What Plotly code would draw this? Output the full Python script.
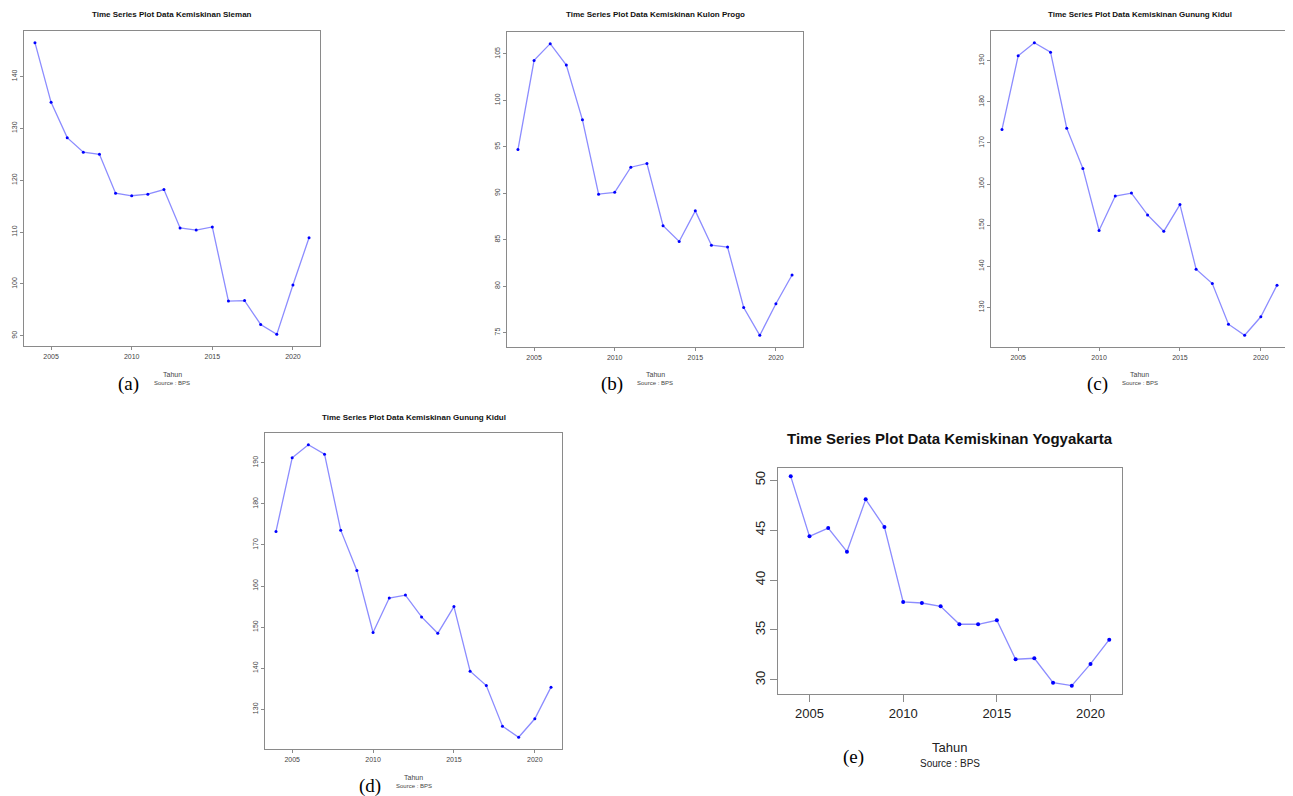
import plotly.graph_objects as go

W, H = 1293, 796
OFF = 8  # default page body margin
FW, FH = W - OFF, H - OFF

years = list(range(2004, 2022))
sleman = [146.5, 135.0, 128.2, 125.4, 125.0, 117.5, 117.0, 117.3, 118.2, 110.8, 110.4, 111.0, 96.7, 96.8, 92.2, 90.3, 99.8, 108.9]
kulon_progo = [94.7, 104.3, 106.1, 103.8, 97.9, 89.9, 90.1, 92.8, 93.2, 86.5, 84.8, 88.1, 84.4, 84.2, 77.7, 74.7, 78.1, 81.2]
gunung_kidul = [173.3, 191.2, 194.4, 192.1, 173.6, 163.8, 148.7, 157.1, 157.8, 152.5, 148.5, 155.0, 139.3, 135.8, 125.9, 123.2, 127.7, 135.4]
yogyakarta = [50.37, 44.37, 45.2, 42.83, 48.07, 45.3, 37.8, 37.7, 37.37, 35.57, 35.57, 35.97, 32.07, 32.17, 29.73, 29.43, 31.6, 34.03]

titles = [
    "Time Series Plot Data Kemiskinan Sleman",
    "Time Series Plot Data Kemiskinan Kulon Progo",
    "Time Series Plot Data Kemiskinan Gunung Kidul",
    "Time Series Plot Data Kemiskinan Gunung Kidul",
    "Time Series Plot Data Kemiskinan Yogyakarta",
]
panel_labels = ["(a)", "(b)", "(c)", "(d)", "(e)"]
series = [sleman, kulon_progo, gunung_kidul, gunung_kidul, yogyakarta]
y_dticks = [10, 5, 10, 10, 5]

# layout in screen pixels
panels = [
    dict(box=(24, 320, 31, 346), ty=15, tah=374, src=383, lab=(128, 384), big=False),
    dict(box=(507, 803, 32, 347), ty=15, tah=374, src=383, lab=(612, 384), big=False),
    dict(box=(991, 1288, 31, 347), ty=15, tah=374, src=383, lab=(1097, 384), big=False),
    dict(box=(265, 562, 433, 749), ty=418, tah=777, src=786, lab=(370, 786), big=False),
    dict(box=(778, 1122, 468, 694), ty=438, tah=747, src=763, lab=(853, 757), big=True),
]

fig = go.Figure()
annotations = []
font_sans = "Liberation Sans, Arial, sans-serif"
font_serif = "Liberation Serif, Times New Roman, serif"


def px_x(v):
    return (v - OFF) / FW


def px_y(v):
    return 1 - (v - OFF) / FH


for i, (p, ys) in enumerate(zip(panels, series)):
    n = "" if i == 0 else str(i + 1)
    x0, x1, y0, y1 = p["box"]
    big = p["big"]
    lo, hi = min(ys), max(ys)
    pad = (hi - lo) * 0.04
    xpad = (max(years) - min(years)) * 0.04
    fig.add_trace(go.Scatter(
        x=years, y=ys, mode="lines+markers",
        line=dict(color="#8c8cff", width=1.3),
        marker=dict(color="#0000ff", size=4 if big else 3),
        xaxis="x" + n, yaxis="y" + n, showlegend=False,
    ))
    tick_font = dict(family=font_sans, size=13 if big else 7, color="#222" if big else "#444")
    fig.update_layout(**{
        "xaxis" + n: dict(
            domain=[px_x(x0), px_x(x1)], anchor="y" + n,
            range=[min(years) - xpad, max(years) + xpad],
            tickmode="linear", tick0=2005, dtick=5,
            showgrid=False, zeroline=False,
            showline=True, mirror=True, linecolor="#8a8a8a", linewidth=1.2,
            ticks="outside", ticklen=7 if big else 3, tickcolor="#8a8a8a",
            tickfont=tick_font,
        ),
        "yaxis" + n: dict(
            domain=[px_y(y1), px_y(y0)], anchor="x" + n,
            range=[lo - pad, hi + pad],
            tickmode="linear", tick0=0, dtick=y_dticks[i],
            showgrid=False, zeroline=False,
            showline=True, mirror=True, linecolor="#8a8a8a", linewidth=1.2,
            ticks="outside", ticklen=7 if big else 3, tickcolor="#8a8a8a",
            tickangle=-90, tickfont=tick_font,
        ),
    })
    cx = (x0 + x1) / 2
    annotations.append(dict(
        text="<b>" + titles[i] + "</b>", x=px_x(cx), y=px_y(p["ty"]),
        xref="paper", yref="paper", showarrow=False, xanchor="center", yanchor="middle",
        font=dict(family=font_sans, size=15 if big else 8, color="#111"),
    ))
    annotations.append(dict(
        text="Tahun", x=px_x(cx), y=px_y(p["tah"]),
        xref="paper", yref="paper", showarrow=False, xanchor="center", yanchor="middle",
        font=dict(family=font_sans, size=13 if big else 7, color="#222" if big else "#444"),
    ))
    annotations.append(dict(
        text="Source : BPS", x=px_x(cx), y=px_y(p["src"]),
        xref="paper", yref="paper", showarrow=False, xanchor="center", yanchor="middle",
        font=dict(family=font_sans, size=10 if big else 6, color="#222" if big else "#444"),
    ))
    annotations.append(dict(
        text=panel_labels[i], x=px_x(p["lab"][0]), y=px_y(p["lab"][1]),
        xref="paper", yref="paper", showarrow=False, xanchor="center", yanchor="middle",
        font=dict(family=font_serif, size=19, color="#000"),
    ))

fig.update_layout(
    width=FW, height=FH,
    margin=dict(l=0, r=0, t=0, b=0),
    paper_bgcolor="white", plot_bgcolor="white",
    annotations=annotations,
)

fig.write_html("out.html")
